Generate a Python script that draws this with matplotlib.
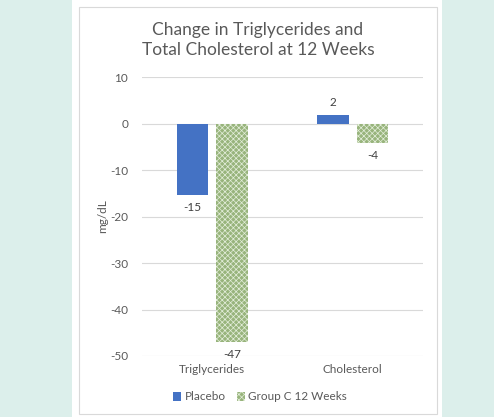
import numpy as np
import matplotlib.pyplot as plt
from matplotlib.patches import Rectangle

categories = ['Triglycerides', 'Cholesterol']
placebo = [-15.4, 1.8]
group_c = [-47.0, -4.1]
series_names = ['Placebo', 'Group C 12 Weeks']
yticks = [10, 0, -10, -20, -30, -40, -50]

plt.rcParams['font.family'] = ['Lato', 'DejaVu Sans']
plt.rcParams['axes.unicode_minus'] = False
plt.rcParams['hatch.linewidth'] = 0.5
grey = '#595959'

fig = plt.figure(figsize=(4.94, 4.17), dpi=100, facecolor='#dcefeb')
# white panel and chart frame
fig.patches.append(Rectangle((72 / 494, 0), (442 - 72) / 494, 1, transform=fig.transFigure,
                             facecolor='white', edgecolor='none', zorder=-2))
fig.patches.append(Rectangle((79 / 494, 1 - 414 / 417), (437 - 79) / 494, (414 - 7) / 417,
                             transform=fig.transFigure, facecolor='white',
                             edgecolor='#d9d9d9', linewidth=0.8, zorder=-1))

ax = fig.add_axes([142 / 494, 1 - 356 / 417, (423 - 142) / 494, (356 - 77) / 417])
ax.set_facecolor('none')

x = np.arange(len(categories))
w = 0.224
gap = 0.057
off = (w + gap) / 2
b1 = ax.bar(x - off, placebo, w, color='#4472c4', label=series_names[0], zorder=3)
b2 = ax.bar(x + off, group_c, w, color='#98b47c', edgecolor='#e4eedb', linewidth=0,
            hatch='xxxxxx', label=series_names[1], zorder=3)

for bars, vals in [(b1, placebo), (b2, group_c)]:
    for rect, v in zip(bars, vals):
        cx = rect.get_x() + rect.get_width() / 2
        if v >= 0:
            ax.annotate(f'{round(v):d}', (cx, v), xytext=(0, 5), textcoords='offset points',
                        ha='center', va='bottom', fontsize=8.5, color='#404040')
        else:
            ax.annotate(f'{round(v):d}', (cx, v), xytext=(0, -5), textcoords='offset points',
                        ha='center', va='top', fontsize=8.5, color='#404040')

ax.set_xlim(-0.5, 1.5)
ax.set_ylim(-50, 10)
ax.set_yticks(yticks)
ax.set_xticks(x)
ax.set_xticklabels(categories)
ax.tick_params(axis='both', length=0, colors=grey, labelsize=8.5, pad=6)
ax.tick_params(axis='y', pad=10)
ax.grid(axis='y', color='#d9d9d9', linewidth=0.8, zorder=0)
for s in ax.spines.values():
    s.set_visible(False)
ax.set_ylabel('mg/dL', color=grey, fontsize=8.5, labelpad=1)

fig.text(258 / 494, 1 - 40 / 417, 'Change in Triglycerides and\nTotal Cholesterol at 12 Weeks',
         ha='center', va='center', fontsize=12.5, color=grey, linespacing=1.3)

fig.legend(handles=[b1, b2], loc='center', bbox_to_anchor=(260 / 494, 1 - 397 / 417),
           ncol=2, frameon=False, fontsize=8.5, labelcolor=grey, handlelength=0.7,
           handleheight=0.7, handletextpad=0.3, columnspacing=0.9)

fig.savefig('out.png', dpi=100, facecolor=fig.get_facecolor())
